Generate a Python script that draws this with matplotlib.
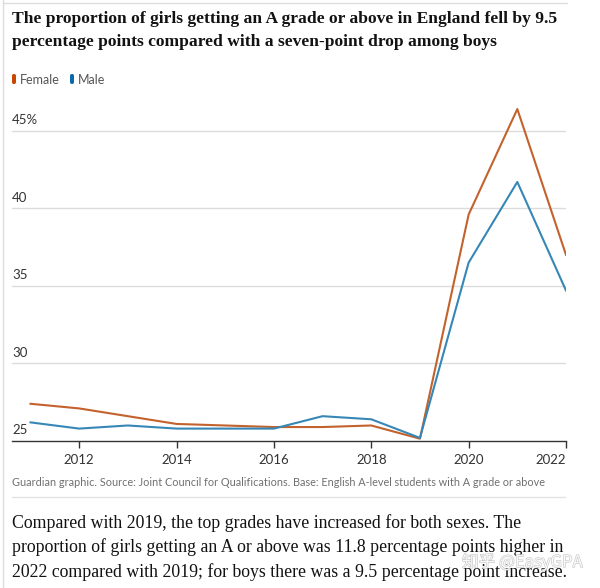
import matplotlib.pyplot as plt
import matplotlib.patheffects as pe
from matplotlib.lines import Line2D
from matplotlib.patches import FancyBboxPatch

years = [2011, 2012, 2013, 2014, 2015, 2016, 2017, 2018, 2019, 2020, 2021, 2022]
female = [27.4, 27.1, 26.6, 26.1, 26.0, 25.9, 25.9, 26.0, 25.15, 39.6, 46.4, 37.0]
male = [26.2, 25.8, 26.0, 25.8, 25.8, 25.8, 26.6, 26.4, 25.2, 36.5, 41.7, 34.7]

y_ticks = [25, 30, 35, 40, 45]
y_labels = ["25", "30", "35", "40", "45%"]
x_ticks = [2012, 2014, 2016, 2018, 2020, 2022]

title_lines = ["The proportion of girls getting an A grade or above in England fell by 9.5",
               "percentage points compared with a seven-point drop among boys"]
source = ("Guardian graphic. Source: Joint Council for Qualifications. "
          "Base: English A-level students with A grade or above")
para = ["Compared with 2019, the top grades have increased for both sexes. The",
        "proportion of girls getting an A or above was 11.8 percentage points higher in",
        "2022 compared with 2019; for boys there was a 9.5 percentage point increase."]

female_line = "#c3622c"
male_line = "#3787b6"
female_key = "#c74600"
male_key = "#0a6aab"
text_grey = "#333333"
sans = "Lato"
serif = "Liberation Serif"


def fit_width(fig, txt, width_px):
    # shrink/grow a text so it spans width_px
    r = fig.canvas.get_renderer()
    w = txt.get_window_extent(renderer=r).width
    txt.set_fontsize(txt.get_fontsize() * width_px / w)
    return txt.get_fontsize()


def main():
    fig = plt.figure(figsize=(6, 5.88), dpi=100)
    fig.patch.set_facecolor("white")

    W, H = 600, 588

    def fx(px):
        return px / W

    def fy(py):
        return 1 - py / H

    # page rules
    fig.add_artist(Line2D([fx(3), fx(3)], [0, 1], color="#dddddd", lw=1))
    fig.add_artist(Line2D([fx(3), fx(567)], [fy(3), fy(3)], color="#dddddd", lw=1))
    fig.add_artist(Line2D([fx(12), fx(565)], [fy(497), fy(497)], color="#e2e2e2", lw=1))

    # title
    t1 = fig.text(fx(12), fy(19), title_lines[0], fontsize=13, fontweight="bold",
                  family=serif, color="#121212", va="center", ha="left")
    size = fit_width(fig, t1, 541)
    fig.text(fx(12), fy(42), title_lines[1], fontsize=size, fontweight="bold",
             family=serif, color="#121212", va="center", ha="left")

    # legend
    for x0, col, lab in [(12, female_key, "Female"), (70, male_key, "Male")]:
        fig.add_artist(FancyBboxPatch((fx(x0), fy(84)), fx(4), 10 / H,
                                      boxstyle="round,pad=0,rounding_size=0.003",
                                      transform=fig.transFigure,
                                      facecolor=col, edgecolor="none"))
        fig.text(fx(x0 + 8), fy(80), lab, fontsize=9, family=sans,
                 color="#555555", va="center", ha="left")

    # chart
    ax = fig.add_axes([fx(12), fy(441), fx(566) - fx(12), (441 - 92) / H])
    ax.plot(years, female, color=female_line, lw=1.5)
    ax.plot(years, male, color=male_line, lw=1.5)

    ax.set_xlim(2010.62, 2022)
    ax.set_ylim(25, 47.5)

    for s in ["top", "right", "left"]:
        ax.spines[s].set_visible(False)
    ax.spines["bottom"].set_color("#333333")
    ax.spines["bottom"].set_linewidth(1)

    ax.set_yticks(y_ticks)
    ax.set_yticklabels([])
    ax.tick_params(axis="y", length=0)
    for v in y_ticks[1:]:
        ax.axhline(v, color="#dcdcdc", lw=1, zorder=0)
    for v, lab in zip(y_ticks, y_labels):
        ax.text(0, v + 0.3, lab, transform=ax.get_yaxis_transform(),
                fontsize=9.5, family=sans, color=text_grey,
                ha="left", va="bottom")

    ax.set_xticks(x_ticks)
    ax.set_xticklabels([str(x) for x in x_ticks], fontsize=9.5, family=sans,
                       color=text_grey)
    ax.get_xticklabels()[-1].set_ha("right")
    ax.tick_params(axis="x", length=5, width=1, color="#333333", pad=4)

    # footer
    src = fig.text(fx(12), fy(483), source, fontsize=8, family=sans,
                   color="#707070", va="center", ha="left")
    fit_width(fig, src, 531)

    p0 = fig.text(fx(12), fy(523), para[0], fontsize=12, family=serif,
                  color="#121212", va="center", ha="left")
    psize = fit_width(fig, p0, 507)
    for i, line in enumerate(para[1:], start=1):
        fig.text(fx(12), fy(523 + 24.5 * i), line, fontsize=psize,
                 family=serif, color="#121212", va="center", ha="left")

    # watermark
    fig.text(fx(462), fy(562), "知乎 @EasyGPA", fontsize=12,
             family=["Noto Sans CJK SC", "DejaVu Sans"], color="white",
             alpha=0.85, va="center", ha="left",
             path_effects=[pe.withStroke(linewidth=0.8, foreground="#bbbbbb")])

    fig.savefig("out.png", dpi=100)


if __name__ == "__main__":
    main()
